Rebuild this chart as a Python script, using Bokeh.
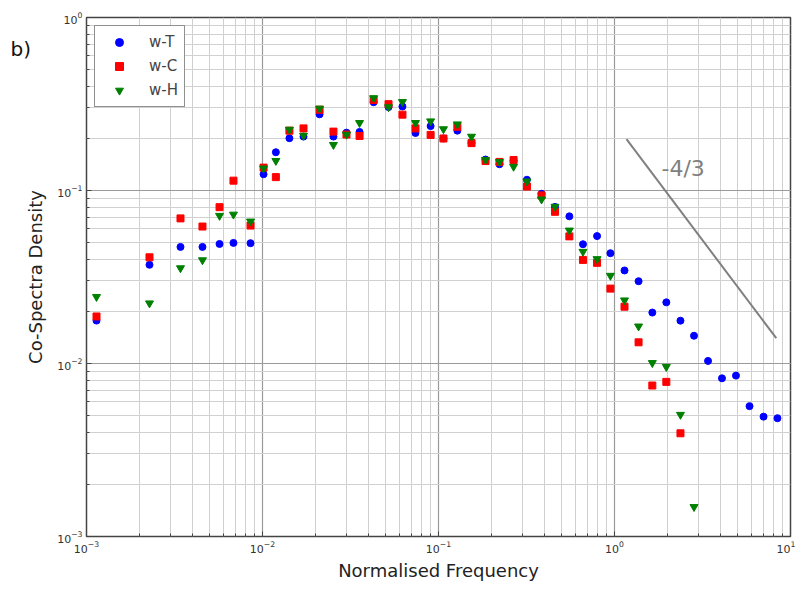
from bokeh.plotting import figure
from bokeh.models import Label, Legend, LegendItem, Range1d
from bokeh.embed import file_html
from bokeh.resources import INLINE
from bokeh.core.properties import value

freq = [0.00114, 0.00228, 0.00342, 0.00456, 0.00570, 0.00684, 0.00855,
        0.01014, 0.01191, 0.01422, 0.0171, 0.0211, 0.0253, 0.0300, 0.0356,
        0.0428, 0.0520, 0.0624, 0.0740, 0.0902, 0.1067, 0.128, 0.154,
        0.185, 0.222, 0.267, 0.318, 0.385, 0.459, 0.554, 0.662, 0.796,
        0.948, 1.14, 1.37, 1.64, 1.97, 2.37, 2.83, 3.40, 4.08, 4.90,
        5.85, 7.03, 8.43]

w_T = [0.0177, 0.0372, 0.0472, 0.0472, 0.0491, 0.0498, 0.0496,
       0.1242, 0.1664, 0.2006, 0.205, 0.2755, 0.205, 0.216, 0.218,
       0.324, 0.3035, 0.306, 0.215, 0.2356, 0.1998, 0.2218, 0.1887,
       0.151, 0.1419, 0.1485, 0.1154, 0.0957, 0.0804, 0.0709, 0.0489,
       0.0545, 0.0434, 0.0345, 0.0299, 0.0197, 0.02256, 0.01768, 0.01447,
       0.01035, 0.00821, 0.00851, 0.00567, 0.00493, 0.00483]

w_C = [0.0187, 0.0411, 0.0690, 0.0619, 0.0801, 0.114, 0.0627,
       0.1356, 0.1195, 0.2218, 0.2286, 0.293, 0.219, 0.2106, 0.2067,
       0.334, 0.3156, 0.2745, 0.2286, 0.2095, 0.1998, 0.2337, 0.1879,
       0.148, 0.1463, 0.150, 0.1054, 0.0937, 0.0753, 0.0543, 0.0397,
       0.0382, 0.0271, 0.0213, 0.01326, 0.00746, 0.00783, 0.00395]

w_H = [0.0243, 0.0223, 0.0356, 0.0396, 0.0715, 0.0727, 0.0663,
       0.1343, 0.1485, 0.225, 0.2078, 0.298, 0.1838, 0.2106, 0.2461,
       0.3426, 0.3035, 0.3253, 0.2461, 0.2515, 0.2265, 0.2416, 0.205,
       0.1506, 0.1466, 0.1374, 0.1129, 0.0889, 0.0807, 0.0588, 0.0443,
       0.0402, 0.0322, 0.0232, 0.0164, 0.01008, 0.00957, 0.00506, 0.001483]

ref_x = [1.17, 8.3]
ref_y = [0.198, 0.0140]
ref_label = "-4/3"

FONT = "DejaVu Sans"

p = figure(width=795, height=583, x_axis_type="log", y_axis_type="log",
           x_range=Range1d(1e-3, 1e1), y_range=Range1d(1e-3, 1e0),
           output_backend="svg", toolbar_location=None,
           min_border_left=86, min_border_top=17, min_border_right=5,
           min_border_bottom=40)

p.outline_line_color = "#444444"
p.outline_line_width = 1.5
p.background_fill_color = "white"
p.border_fill_color = "white"

for g in (p.xgrid, p.ygrid):
    g.grid_line_color = "#9a9a9a"
    g.grid_line_width = 1.2
    g.minor_grid_line_color = "#d0d0d0"
    g.minor_grid_line_width = 1

for ax in (p.xaxis, p.yaxis):
    ax.axis_line_color = None
    ax.major_tick_in = 5
    ax.major_tick_out = 0
    ax.minor_tick_in = 3
    ax.minor_tick_out = 0
    ax.major_tick_line_color = "#444444"
    ax.minor_tick_line_color = "#444444"
    ax.major_label_text_font = FONT
    ax.major_label_text_font_size = "11px"
    ax.major_label_text_color = "#333333"
    ax.major_label_standoff = 4
    ax.axis_label_text_font = FONT
    ax.axis_label_text_font_size = "18px"
    ax.axis_label_text_font_style = "normal"
    ax.axis_label_text_color = "#222222"

p.xaxis.axis_label = "Normalised Frequency"
p.yaxis.axis_label = "Co-Spectra Density"
p.xaxis.axis_label_standoff = 4
p.yaxis.axis_label_standoff = 8

rT = p.scatter(freq, w_T, marker="circle", size=7, fill_color="#0000ff",
               line_color="#0000ff")
rC = p.scatter(freq[:len(w_C)], w_C, marker="square", size=7,
               fill_color="#ff0000", line_color="#ff0000")
rH = p.scatter(freq[:len(w_H)], w_H, marker="inverted_triangle", size=8,
               fill_color="#008000", line_color="#008000")

p.line(ref_x, ref_y, line_color="#808080", line_width=2)

p.text(x=[1.85], y=[0.134], text=[ref_label], text_font=value(FONT),
       text_font_size="22px", text_color="#808080",
       text_align="left", text_baseline="middle")

legend = Legend(items=[LegendItem(label="w-T", renderers=[rT]),
                       LegendItem(label="w-C", renderers=[rC]),
                       LegendItem(label="w-H", renderers=[rH])],
                location="top_left")
legend.label_text_font = FONT
legend.label_text_font_size = "15px"
legend.border_line_color = "#222222"
legend.border_line_width = 1.5
legend.margin = 8
legend.padding = 6
legend.spacing = 4
legend.glyph_width = 36
legend.label_standoff = 12
legend.background_fill_alpha = 1.0
p.add_layout(legend)

# panel tag, placed in the left side panel so that it is not clipped to the frame
p.add_layout(Label(x=8, y=488, x_units="screen", y_units="screen",
                   text="b)", text_font=FONT, text_font_size="20px",
                   text_color="#111111", text_baseline="middle"), "left")

open("out.html", "w").write(file_html(p, INLINE))
